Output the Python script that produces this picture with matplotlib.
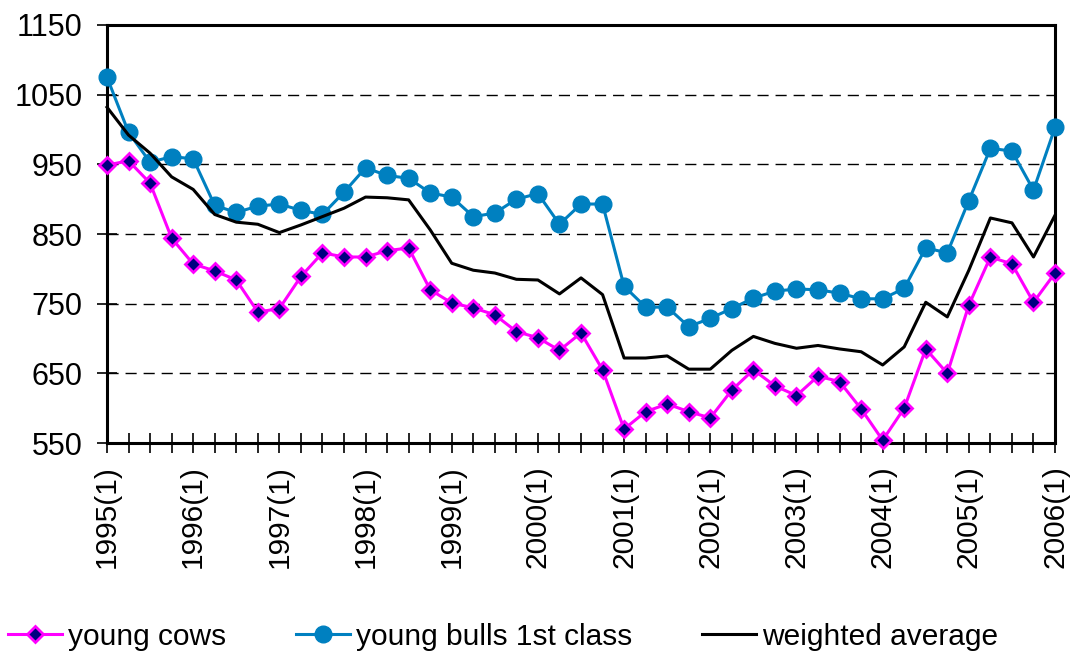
import matplotlib
matplotlib.use('Agg')
import matplotlib.pyplot as plt

# quarterly prices, 1995(1) .. 2006(1)
quarters = [f"{y}({q})" for y in range(1995, 2007) for q in range(1, 5)][:45]
year_labels = [f"{y}(1)" for y in range(1995, 2007)]

young_cows = [949, 955, 923, 844, 807, 797, 784, 738, 743, 789, 823, 817, 817, 826, 830,
              770, 751, 744, 734, 710, 701, 683, 708, 655, 570, 595, 606, 595, 586, 626,
              655, 632, 618, 646, 638, 599, 554, 600, 685, 650, 748, 817, 807, 752, 794]
young_bulls = [1075, 996, 953, 961, 958, 891, 881, 890, 893, 884, 878, 910, 945, 934, 930,
               909, 903, 875, 880, 900, 908, 864, 893, 893, 775, 745, 745, 717, 729, 743,
               758, 768, 771, 770, 765, 757, 757, 772, 830, 823, 898, 973, 969, 913, 1003]
weighted_avg = [1032, 992, 966, 932, 914, 878, 867, 864, 852, 863, 875, 887, 903, 902, 899,
                856, 808, 798, 794, 785, 784, 764, 787, 763, 672, 672, 675, 656, 656, 683,
                703, 693, 686, 690, 685, 681, 662, 688, 752, 731, 798, 873, 866, 817, 877]

y_ticks = [550, 650, 750, 850, 950, 1050, 1150]

plt.rcParams['font.family'] = ['Liberation Sans', 'DejaVu Sans']
plt.rcParams['font.size'] = 21.5

fig = plt.figure(figsize=(10.71, 6.51), dpi=100)
ax = fig.add_axes([0.0999, 0.3195, 0.8852, 0.6421])

x = list(range(len(quarters)))

ax.plot(x, young_cows, color='#FF00FF', linewidth=2.2, marker='D', markersize=8,
        markerfacecolor='#000080', markeredgecolor='#FF00FF', markeredgewidth=2,
        label='young cows', clip_on=False, zorder=3)
ax.plot(x, young_bulls, color='#0080C0', linewidth=2.2, marker='o', markersize=12,
        markerfacecolor='#0080C0', markeredgecolor='#0080C0',
        label='young bulls 1st class', clip_on=False, zorder=3)
ax.plot(x, weighted_avg, color='black', linewidth=2.2, label='weighted average',
        clip_on=False, zorder=3)

ax.set_xlim(0, len(quarters) - 1)
ax.set_ylim(550, 1150)
ax.set_yticks(y_ticks)
ax.set_xticks(x)
ax.set_xticklabels([q if q in year_labels else '' for q in quarters], rotation=90)
ax.tick_params(axis='y', labelsize=22)

for v in y_ticks[1:-1]:
    ax.axhline(v, color='black', linewidth=1, linestyle=(0, (8, 5)), zorder=1)

for side in ['left', 'right', 'top', 'bottom']:
    ax.spines[side].set_linewidth(2.2)
ax.tick_params(axis='both', direction='inout', length=14, width=1.2, colors='black')
ax.tick_params(axis='y', pad=10.5)
ax.tick_params(axis='x', pad=9)

fig.legend(loc='center left', bbox_to_anchor=(0.0075, 0.022), ncol=3, frameon=False,
           handlelength=1.8, handletextpad=0.2, columnspacing=2.35, borderpad=0,
           borderaxespad=0)

fig.savefig('out.png', dpi=100)
